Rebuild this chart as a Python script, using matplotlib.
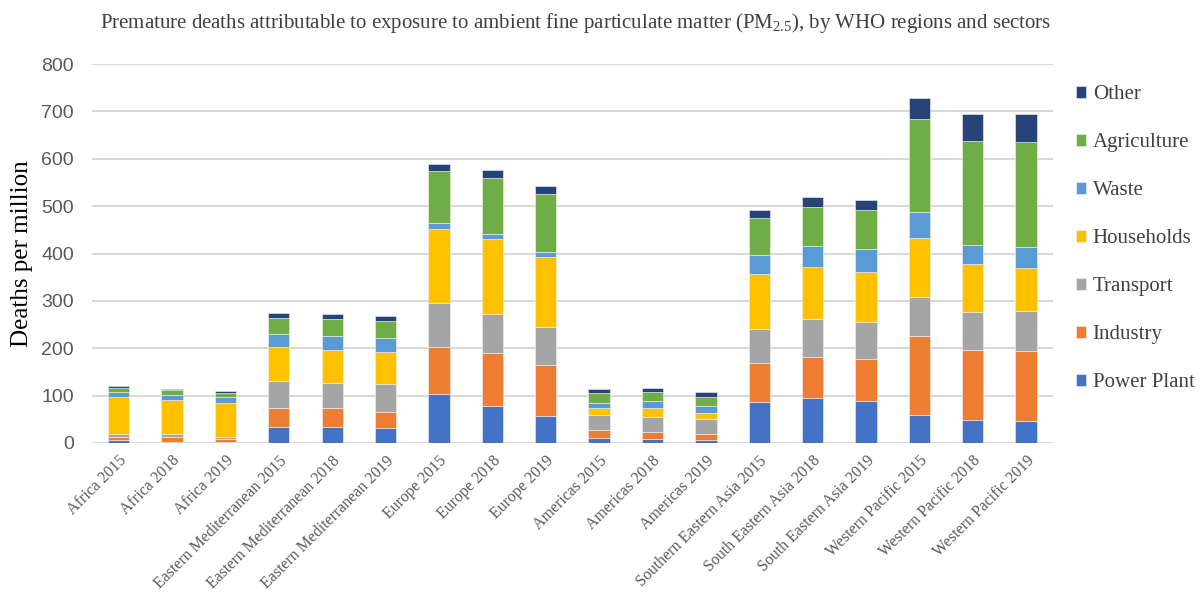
import numpy as np
import matplotlib
matplotlib.use('Agg')
import matplotlib.pyplot as plt

plt.rcParams['mathtext.fontset'] = 'custom'
plt.rcParams['mathtext.rm'] = 'Liberation Serif'

# Region / year categories along the x axis
categories = [
    'Africa 2015', 'Africa 2018', 'Africa 2019',
    'Eastern Mediterranean 2015', 'Eastern Mediterranean 2018', 'Eastern Mediterranean 2019',
    'Europe 2015', 'Europe 2018', 'Europe 2019',
    'Americas 2015', 'Americas 2018', 'Americas 2019',
    'Southern Eastern Asia 2015', 'South Eastern Asia 2018', 'South Eastern Asia 2019',
    'Western Pacific 2015', 'Western Pacific 2018', 'Western Pacific 2019',
]

# Deaths per million by sector (stacked bottom to top)
power_plant = [6, 2, 2, 33, 33, 31, 103, 77, 57, 10, 8, 6, 86, 95, 89, 58, 49, 47]
industry = [7, 10, 6, 40, 40, 34, 100, 112, 108, 17, 16, 13, 82, 87, 88, 168, 147, 147]
transport = [6, 7, 5, 57, 54, 60, 92, 83, 79, 32, 31, 31, 72, 79, 78, 83, 81, 85]
households = [78, 71, 72, 72, 69, 68, 156, 158, 148, 14, 18, 14, 116, 111, 105, 123, 100, 91]
waste = [10, 12, 11, 29, 30, 28, 13, 11, 12, 12, 15, 14, 41, 44, 49, 56, 41, 44]
agriculture = [10, 9, 9, 33, 35, 37, 110, 118, 121, 21, 20, 20, 79, 82, 82, 195, 220, 222]
other = [4, 4, 4, 10, 11, 11, 14, 18, 18, 7, 8, 9, 16, 22, 23, 46, 56, 59]

sectors = ['Power Plant', 'Industry', 'Transport', 'Households', 'Waste', 'Agriculture', 'Other']
series = [power_plant, industry, transport, households, waste, agriculture, other]
colors = ['#4472C4', '#ED7D31', '#A5A5A5', '#FFC000', '#5B9BD5', '#70AD47', '#264478']

fig = plt.figure(figsize=(12.01, 5.93), dpi=100)
ax = fig.add_axes([0.0766, 0.253, 0.800, 0.639])

x = np.arange(len(categories))
bottom = np.zeros(len(categories))
handles = []
for name, vals, c in zip(sectors, series, colors):
    vals = np.array(vals, dtype=float)
    b = ax.bar(x, vals, width=0.4, bottom=bottom, color=c, label=name,
               edgecolor='#f2f2f2', linewidth=0.4, zorder=3)
    handles.append(b)
    bottom += vals

ax.set_xlim(-0.5, len(categories) - 0.5)
ax.set_ylim(0, 800)
ax.set_yticks(range(0, 801, 100))
ax.yaxis.grid(True, color='#d9d9d9', linewidth=1.5, zorder=0)
ax.set_axisbelow(True)
for s in ax.spines.values():
    s.set_visible(False)
ax.tick_params(axis='y', length=0, pad=13, labelsize=14, labelcolor='#595959')
for lbl in ax.get_yticklabels():
    lbl.set_fontfamily('Liberation Sans')

ax.set_xticks(x)
ax.set_xticklabels(categories, rotation=45, ha='right', rotation_mode='anchor',
                   fontsize=11.4, color='#595959', family='Liberation Serif')
ax.tick_params(axis='x', length=0, pad=7)

ax.set_ylabel('Deaths per million', fontsize=18, family='Liberation Serif',
              color='#000000', labelpad=6)

fig.text(0.479, 0.962,
         r'Premature deaths attributable to exposure to ambient fine particulate matter (PM$_{\mathrm{2.5}}$), by WHO regions and sectors',
         ha='center', va='center', fontsize=15, family='Liberation Serif', color='#404040')

leg = fig.legend(handles[::-1], sectors[::-1], loc='upper left',
                 bbox_to_anchor=(0.889, 0.870), frameon=False,
                 prop={'family': 'Liberation Serif', 'size': 15},
                 handlelength=0.5, handleheight=0.5, handletextpad=0.3,
                 labelspacing=1.39, borderaxespad=0)
for t in leg.get_texts():
    t.set_color('#404040')

fig.savefig('out.png', dpi=100)
